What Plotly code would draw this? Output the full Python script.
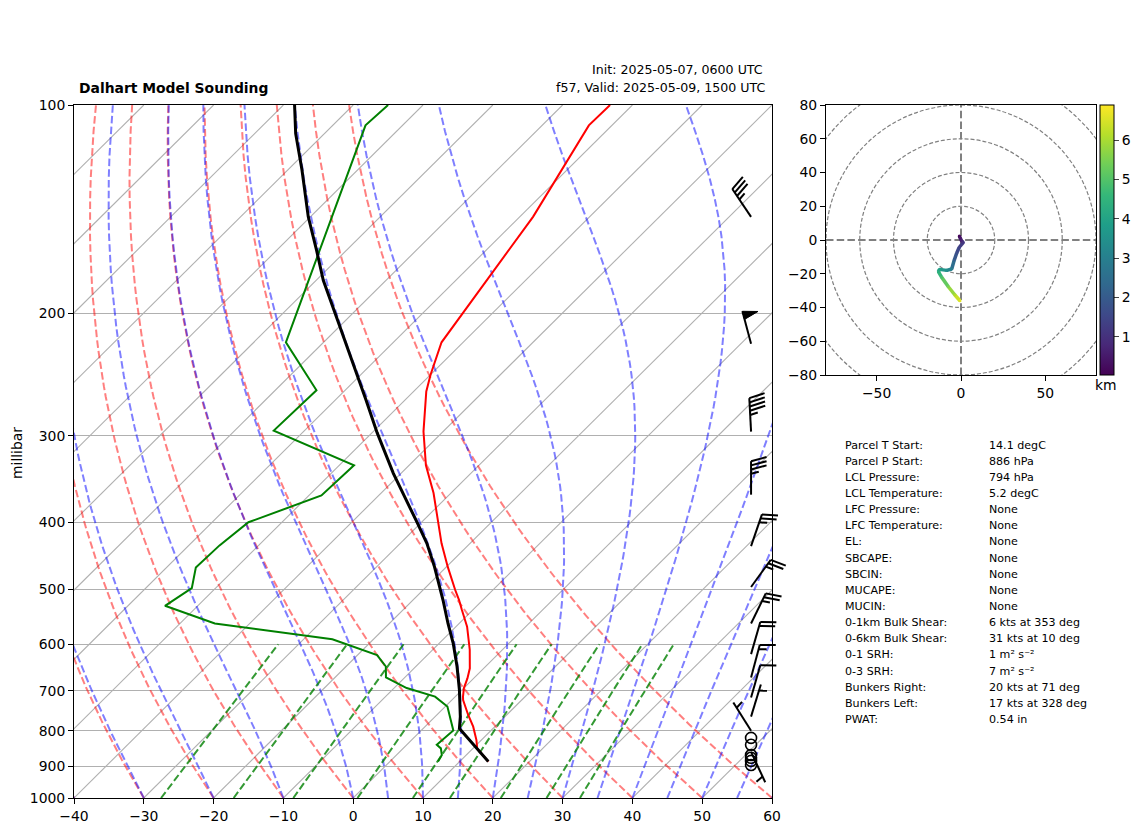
import numpy as np
import plotly.graph_objects as go
from plotly.colors import sample_colorscale

# sounding (hPa, degC)
t_pres = [886, 848, 825, 789, 759, 722, 714, 694, 672, 650, 611, 566, 535, 518, 501, 464, 429, 388, 363, 331, 296, 259, 245, 220, 145, 107, 100]
t_temp = [14.1, 10.6, 9.3, 6.9, 4.5, 1.6, 1.1, 0.0, -0.9, -2.0, -4.7, -8.4, -11.6, -13.4, -15.4, -19.8, -24.1, -29.1, -32.5, -37.6, -42.8, -48.2, -50.0, -53.1, -58.1, -63.3, -63.2]

td_pres = [886, 867, 848, 838, 799, 767, 738, 714, 694, 670, 646, 622, 590, 560, 528, 498, 465, 432, 400, 366, 331, 295, 258, 220, 107, 100]
td_temp = [6.9, 6.5, 5.4, 4.3, 4.6, 2.4, 0.3, -2.9, -8.2, -12.7, -14.3, -17.2, -25.9, -45.0, -54.7, -53.4, -55.8, -55.6, -54.8, -48.2, -47.9, -64.4, -64.1, -75.4, -95.3, -95.0]

parcel_pres = [886, 794, 763, 698, 646, 598, 560, 518, 464, 429, 401, 340, 297, 266, 203, 179, 162, 145, 124, 110, 100]
parcel_temp = [14.1, 5.2, 3.6, -0.4, -4.1, -8.0, -11.6, -15.7, -21.7, -26.2, -30.5, -41.1, -49.3, -55.7, -71.6, -79.0, -84.3, -90.3, -98.0, -104.1, -108.4]

# wind barbs
barb_pres = [145, 221, 296, 365, 433, 496, 560, 620, 670, 716, 763, 800, 858]
barb_speed = [35, 50, 45, 35, 25, 25, 25, 20, 15, 10, 5, 5, 5]
barb_dir = [326, 345, 357, 360, 19, 36, 26, 16, 15, 16, 17, 328, 155]
calm_pres = [819, 838, 867, 875, 884, 896]

# hodograph (kts, km)
hodo_u = [-1.0, -0.6, 0.6, 1.4, -1.0, -2.6, -4.0, -5.5, -8.5, -12.8, -13.4, -11.5, -7.5, -3.6, -0.6]
hodo_v = [2.4, 1.4, -1.0, -1.4, -4.3, -7.9, -11.9, -17.2, -18.0, -17.4, -18.8, -22.0, -27.7, -32.6, -36.0]
hodo_z = [0.1, 0.4, 0.8, 1.1, 1.4, 1.7, 2.1, 2.9, 3.4, 3.9, 4.3, 4.9, 5.5, 6.1, 6.6]
hodo_rings = [20, 40, 60, 80, 100]

stat_labels = ["Parcel T Start:", "Parcel P Start:", "LCL Pressure:", "LCL Temperature:", "LFC Pressure:", "LFC Temperature:",
               "EL:", "SBCAPE:", "SBCIN:", "MUCAPE:", "MUCIN:", "0-1km Bulk Shear:", "0-6km Bulk Shear:",
               "0-1 SRH:", "0-3 SRH:", "Bunkers Right:", "Bunkers Left:", "PWAT:"]
stat_values = ["14.1 degC", "886 hPa", "794 hPa", "5.2 degC", "None", "None", "None", "None", "None", "None", "None",
               "6 kts at 353 deg", "31 kts at 10 deg", "1 m² s⁻²", "7 m² s⁻²", "20 kts at 71 deg", "17 kts at 328 deg", "0.54 in"]

# background lines
isotherms = list(range(-130, 70, 10))
dry_starts = list(range(-40, 70, 10))
moist_starts = [-40, -30, -20, -10, 0, 5, 10, 15, 20, 25, 30, 35, 40, 45, 50, 55, 60]
mix_ratios = [0.0004, 0.001, 0.002, 0.004, 0.007, 0.01, 0.016, 0.024, 0.032]
pressure_ticks = [100, 200, 300, 400, 500, 600, 700, 800, 900, 1000]

# the page body keeps its 8px margin, so the figure is 8px smaller than the window
PAGE_MARGIN = 8
W, H = 1142 - PAGE_MARGIN, 832 - PAGE_MARGIN
FONT = "DejaVu Sans"
DASH = "7.5px,3.2px"
PX_X = 6.98   # px per degC
PX_Y = 693.0  # px per decade of pressure


def fx_(px):
    return (px - PAGE_MARGIN) / W


def fy_(px):
    return 1 - (px - PAGE_MARGIN) / H


def skew(temp, pres):
    return np.asarray(temp, dtype=float) + 100 * np.log10(1000 / np.asarray(pres, dtype=float))


def sat_vp(t_k):
    return 6.112 * np.exp(17.67 * (t_k - 273.15) / (t_k - 29.65))


def moist_slope(t_k, p):
    rs = 0.622 * sat_vp(t_k) / (p - sat_vp(t_k))
    return (287.05 * t_k + 2.501e6 * rs) / (1005.0 + 2.501e6 ** 2 * rs * 0.622 / (287.05 * t_k ** 2)) / p


def moist_line(t0, pres):
    out = [t0 + 273.15]
    for p0, p1 in zip(pres[:-1], pres[1:]):
        h = p1 - p0
        t = out[-1]
        k1 = moist_slope(t, p0)
        k2 = moist_slope(t + h * k1 / 2, p0 + h / 2)
        k3 = moist_slope(t + h * k2 / 2, p0 + h / 2)
        k4 = moist_slope(t + h * k3, p1)
        out.append(t + h * (k1 + 2 * k2 + 2 * k3 + k4) / 6)
    return np.array(out) - 273.15


fig = go.Figure()


def add_line(x, y, color, width, dash=None, xaxis="x", yaxis="y"):
    fig.add_trace(go.Scatter(x=x, y=y, mode="lines", line=dict(color=color, width=width, dash=dash),
                             xaxis=xaxis, yaxis=yaxis, showlegend=False, hoverinfo="skip"))


for t in isotherms:
    add_line(skew([t, t], [1000, 100]), [1000, 100], "#b0b0b0", 1.1)

pres_lines = np.linspace(1000, 100, 100)
for t in dry_starts:
    temp = (t + 273.15) * (pres_lines / 1000) ** 0.2857 - 273.15
    add_line(skew(temp, pres_lines), pres_lines, "rgba(255,0,0,0.5)", 2, DASH)
for t in moist_starts:
    add_line(skew(moist_line(t, pres_lines), pres_lines), pres_lines, "rgba(0,0,255,0.5)", 2, DASH)

pres_mix = np.linspace(1000, 600, 30)
for w in mix_ratios:
    ln_e = np.log(pres_mix * w / (0.622 + w) / 6.112)
    temp = 243.5 * ln_e / (17.67 - ln_e)
    add_line(skew(temp, pres_mix), pres_mix, "rgba(0,128,0,0.8)", 2, DASH)

add_line(skew(t_temp, t_pres), t_pres, "#ff0000", 2)
add_line(skew(td_temp, td_pres), td_pres, "#008000", 2)
add_line(skew(parcel_temp, parcel_pres), parcel_pres, "#000000", 3)

# barbs, sized in pixels; they stick out past the frame, so they get their own wider hidden axes
BARB_X = 57.0
STAFF = 33.5
BARB_AXIS_END_PX = 800
bx, by, fx, fy = [], [], [], []


def to_data(p, px_right, px_up):
    return BARB_X + px_right / PX_X, p * 10 ** (-px_up / PX_Y)


for p, spd, d in zip(barb_pres, barb_speed, barb_dir):
    a = np.radians(d)
    ax, ay = np.sin(a), np.cos(a)   # along the staff
    nx, ny = ay, -ax                # to its right
    pos = STAFF

    def point(along, out):
        return to_data(p, along * ax + out * nx, along * ay + out * ny)

    x0, y0 = point(0, 0)
    x1, y1 = point(STAFF, 0)
    bx += [x0, x1, None]
    by += [y0, y1, None]
    n_flag, rest = divmod(spd, 50)
    n_full, rest = divmod(rest, 10)
    n_half = rest // 5
    for _ in range(n_flag):
        for along, out in [(pos, 0), (pos - 4.2, 15), (pos - 8.4, 0), (pos, 0)]:
            xp, yp = point(along, out)
            fx.append(xp)
            fy.append(yp)
        fx.append(None)
        fy.append(None)
        pos -= 12.5
    for _ in range(n_full):
        xa, ya = point(pos, 0)
        xb, yb = point(pos + 4.2, 15.5)
        bx += [xa, xb, None]
        by += [ya, yb, None]
        pos -= 4.2
    if n_half:
        if n_flag + n_full == 0:
            pos -= 6.3
        xa, ya = point(pos, 0)
        xb, yb = point(pos + 2.1, 7.7)
        bx += [xa, xb, None]
        by += [ya, yb, None]

fig.add_trace(go.Scatter(x=bx, y=by, mode="lines", line=dict(color="black", width=2), xaxis="x3", yaxis="y3",
                         showlegend=False, hoverinfo="skip"))
fig.add_trace(go.Scatter(x=fx, y=fy, mode="lines", fill="toself", fillcolor="black", line=dict(color="black", width=1),
                         xaxis="x3", yaxis="y3", showlegend=False, hoverinfo="skip"))
fig.add_trace(go.Scatter(x=[BARB_X] * len(calm_pres), y=calm_pres, mode="markers", xaxis="x3", yaxis="y3",
                         marker=dict(symbol="circle-open", size=11, color="black", line=dict(color="black", width=1.6)),
                         showlegend=False, hoverinfo="skip"))

# hodograph
Z_MIN, Z_MAX = 0.03, 6.89
for i in range(len(hodo_u) - 1):
    frac = ((hodo_z[i] + hodo_z[i + 1]) / 2 - Z_MIN) / (Z_MAX - Z_MIN)
    add_line(hodo_u[i:i + 2], hodo_v[i:i + 2], sample_colorscale("Viridis", [frac])[0], 3.5, xaxis="x2", yaxis="y2")
fig.add_trace(go.Scatter(x=hodo_u, y=hodo_v, mode="markers", xaxis="x2", yaxis="y2", showlegend=False, hoverinfo="skip",
                         marker=dict(size=3, color=hodo_z, colorscale="Viridis", cmin=Z_MIN, cmax=Z_MAX,
                                     colorbar=dict(x=fx_(1100), xanchor="left", y=fy_(375), yanchor="bottom",
                                                   len=270 / H, lenmode="fraction", thickness=14, thicknessmode="pixels",
                                                   tickvals=[1, 2, 3, 4, 5, 6], ticks="outside", ticklen=5, xpad=0, ypad=0,
                                                   outlinecolor="black", outlinewidth=1,
                                                   tickfont=dict(family=FONT, size=13.9, color="black")))))

shapes = []
for r in hodo_rings:
    shapes.append(dict(type="circle", xref="x2", yref="y2", x0=-r, x1=r, y0=-r, y1=r,
                       line=dict(color="gray", width=1.2, dash="4px,2px"), layer="below"))
shapes.append(dict(type="line", xref="x2", yref="y2", x0=-80, x1=80, y0=0, y1=0, line=dict(color="gray", width=2, dash=DASH), layer="below"))
shapes.append(dict(type="line", xref="x2", yref="y2", x0=0, x1=0, y0=-80, y1=80, line=dict(color="gray", width=2, dash=DASH), layer="below"))

notes = [
    dict(text="<b>Dalhart Model Sounding</b>", x=77, y=88, xanchor="left", font=dict(size=13.9)),
    dict(text="Init: 2025-05-07, 0600 UTC", x=590, y=70, xanchor="left", font=dict(size=12.6)),
    dict(text="f57, Valid: 2025-05-09, 1500 UTC", x=554, y=88, xanchor="left", font=dict(size=12.6)),
    dict(text="km", x=1106, y=385, xanchor="center", font=dict(size=13.9)),
    dict(text="millibar", x=17, y=453, xanchor="center", textangle=-90, font=dict(size=13.9)),
]
for i, (lab, val) in enumerate(zip(stat_labels, stat_values)):
    row = 445 + i * 16.15
    notes.append(dict(text=lab, x=843, y=row, xanchor="left", font=dict(size=11.1)))
    notes.append(dict(text=val, x=987, y=row, xanchor="left", font=dict(size=11.1)))
annotations = []
for n in notes:
    font = dict(family=FONT, color="black", **n.pop("font"))
    n["x"] = fx_(n["x"])
    n["y"] = fy_(n["y"])
    annotations.append(dict(xref="paper", yref="paper", yanchor="middle", showarrow=False, font=font, **n))

axis_style = dict(showline=True, linecolor="black", linewidth=1, mirror=True, ticks="outside", ticklen=5, tickcolor="black",
                  tickfont=dict(family=FONT, size=13.9, color="black"), zeroline=False)

fig.update_layout(
    width=W, height=H, autosize=False, margin=dict(l=0, r=0, t=0, b=0, autoexpand=False),
    paper_bgcolor="white", plot_bgcolor="rgba(0,0,0,0)", showlegend=False,
    shapes=shapes, annotations=annotations,
    xaxis=dict(domain=[fx_(74), fx_(772)], range=[-40, 60], tickvals=list(range(-40, 70, 10)), showgrid=False, **axis_style),
    yaxis=dict(domain=[fy_(798), fy_(105)], type="log", range=[3, 2], tickvals=pressure_ticks,
               ticktext=[str(p) for p in pressure_ticks], showgrid=True, gridcolor="#b0b0b0", gridwidth=1, **axis_style),
    xaxis2=dict(domain=[fx_(826), fx_(1096)], range=[-80, 80], tickvals=[-50, 0, 50], anchor="y2", showgrid=False, **axis_style),
    yaxis2=dict(domain=[fy_(375), fy_(105)], range=[-80, 80], tickvals=list(range(-80, 100, 20)), anchor="x2", showgrid=False, **axis_style),
    xaxis3=dict(domain=[fx_(74), fx_(BARB_AXIS_END_PX)], range=[-40, 60 + (BARB_AXIS_END_PX - 772) / PX_X], anchor="y3", visible=False),
    yaxis3=dict(domain=[fy_(798), fy_(105)], type="log", range=[3, 2], anchor="x3", visible=False),
)

fig.write_html("out.html")
